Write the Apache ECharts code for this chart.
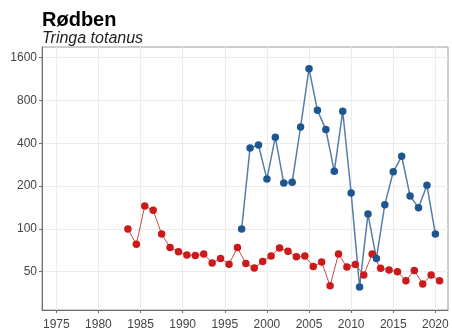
<!DOCTYPE html>
<html>
<head>
<meta charset="utf-8">
<script src="https://cdn.jsdelivr.net/npm/echarts@6/dist/echarts.min.js"></script>
<style>
  html, body { margin: 0; padding: 0; background: #fff; }
  #chart { width: 452px; height: 331px; }
</style>
</head>
<body>
<div id="chart"></div>
<script>
// blue series, one count per year
const blueYears = [1997, 1998, 1999, 2000, 2001, 2002, 2003, 2004, 2005, 2006, 2007, 2008,
  2009, 2010, 2011, 2012, 2013, 2014, 2015, 2016, 2017, 2018, 2019, 2020]
const blueValues = [100, 371, 389, 224, 441, 210, 213, 520, 1337, 682, 499, 254,
  671, 179, 39, 127, 62, 148, 252, 324, 170, 141, 203, 92]

// red series (drawn half a year to the right, as in the original)
const redYears = [1983, 1984, 1985, 1986, 1987, 1988, 1989, 1990, 1991, 1992, 1993, 1994,
  1995, 1996, 1997, 1998, 1999, 2000, 2001, 2002, 2003, 2004, 2005, 2006, 2007, 2008,
  2009, 2010, 2011, 2012, 2013, 2014, 2015, 2016, 2017, 2018, 2019, 2020]
const redValues = [100, 78, 145, 135, 92, 74, 69, 65.5, 65, 66.5, 57.5, 62,
  56.5, 74, 57, 53, 59, 64.5, 73.5, 69.5, 63.7, 64.4, 54.5, 58.5, 39.8, 66.5,
  54, 56.2, 47.4, 66.5, 52.8, 51.4, 50, 43.2, 51, 41, 47.4, 43.2]

const xTicks = [1975, 1980, 1985, 1990, 1995, 2000, 2005, 2010, 2015, 2020]
const yTicks = [50, 100, 200, 400, 800, 1600]

const font = 'Liberation Sans, Arial, sans-serif'
const myChart = echarts.init(document.getElementById('chart'))

const option = {
  animation: false,
  textStyle: { fontFamily: font },
  title: [
    {
      text: 'Rødben',
      left: 42,
      top: 10,
      padding: 0,
      textStyle: { fontSize: 20, fontWeight: 'bold', color: '#000', fontFamily: font }
    },
    {
      text: 'Tringa totanus',
      left: 42,
      top: 31,
      padding: 0,
      textStyle: { fontSize: 16, fontStyle: 'italic', fontWeight: 'normal', color: '#222', fontFamily: font }
    }
  ],
  grid: {
    left: 42,
    right: 4,
    top: 47,
    bottom: 21,
    show: true,
    borderColor: '#9a9a9a',
    borderWidth: 1
  },
  xAxis: {
    type: 'value',
    min: 1973.3,
    max: 2021.5,
    axisLine: { show: true, lineStyle: { color: '#6e6e6e', width: 1 } },
    axisTick: { show: true, length: 3, customValues: xTicks, lineStyle: { color: '#6e6e6e' } },
    axisLabel: {
      customValues: xTicks,
      formatter: v => String(v),
      color: '#444',
      fontSize: 12,
      margin: 9,
      fontFamily: font
    },
    splitLine: { show: true, lineStyle: { color: '#ececec', width: 1 } }
  },
  yAxis: {
    type: 'log',
    logBase: 2,
    min: 26.9,
    max: 1900,
    axisLine: { show: true, lineStyle: { color: '#6e6e6e', width: 1 } },
    axisTick: { show: true, length: 3, customValues: yTicks, lineStyle: { color: '#6e6e6e' } },
    axisLabel: {
      customValues: yTicks,
      formatter: v => String(v),
      color: '#444',
      fontSize: 12,
      margin: 5,
      fontFamily: font
    },
    splitLine: { show: true, lineStyle: { color: '#ececec', width: 1 } }
  },
  series: [
    {
      type: 'line',
      data: redYears.map((yr, i) => [yr + 0.5, redValues[i]]),
      symbol: 'circle',
      symbolSize: 7.5,
      itemStyle: { color: '#cc1a1a' },
      lineStyle: { color: '#c94a4a', width: 1 }
    },
    {
      type: 'line',
      data: blueYears.map((yr, i) => [yr, blueValues[i]]),
      symbol: 'circle',
      symbolSize: 7.5,
      itemStyle: { color: '#1d5690' },
      lineStyle: { color: '#557ea8', width: 1.5 }
    }
  ]
}

myChart.setOption(option)
</script>
</body>
</html>
